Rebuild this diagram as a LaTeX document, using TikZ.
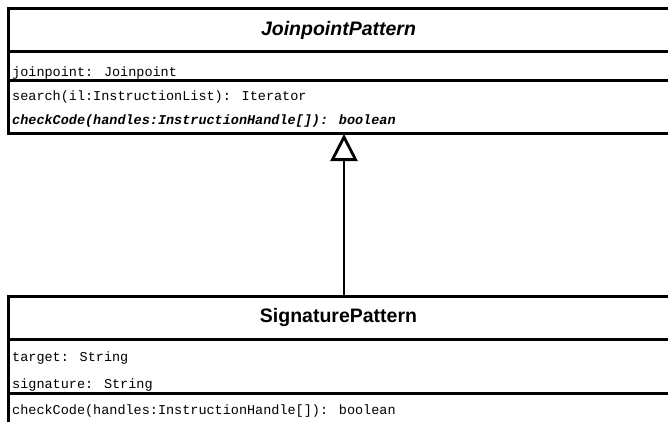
\documentclass[tikz,border=0pt]{standalone}
\usepackage{fontspec}
\setmainfont{Liberation Sans}
\newfontfamily\umlmono{Liberation Mono}
\usetikzlibrary{arrows.meta,positioning}

\tikzset{
  compart/.style={draw, line width=3pt, minimum width=661pt, inner sep=0pt, outer sep=0pt},
  classname/.style={font=\fontsize{19.5}{23}\selectfont\bfseries},
  member/.style={anchor=base west, inner sep=0pt, font=\fontsize{13.5}{16}\selectfont\umlmono},
  realize/.style={line width=2.8pt, -{Triangle[open, length=27pt, width=27pt, fill=white]}}
}

\begin{document}
\begin{tikzpicture}[x=1pt, y=-1pt, line cap=butt, line join=miter]

\useasboundingbox (0,0) rectangle (668,422);
\clip (0,0) rectangle (668,422);

% Members (drawn first, the compartment lines lie over them)
\node[member] (jpField) at (12,77) {joinpoint: Joinpoint};
\node[member] (jpSearch) at (12,101) {search(il:InstructionList): Iterator};
\node[member, font=\fontsize{13.5}{16}\selectfont\umlmono\bfseries\itshape] (jpCheck) at (12,125) {checkCode(handles:InstructionHandle[]): boolean};

\node[member] (sigTarget) at (12,361) {target: String};
\node[member] (sigSignature) at (12,388) {signature: String};
\node[member] (sigCheck) at (12,414) {checkCode(handles:InstructionHandle[]): boolean};

% Class JoinpointPattern
\node[compart, classname, minimum height=42.5pt, anchor=north west] (jpName) at (8,9) {\itshape JoinpointPattern};
\node[compart, minimum height=29.5pt, below=0pt of jpName] (jpAttrs) {};
\node[compart, minimum height=53pt, below=0pt of jpAttrs] (jpOps) {};

% Class SignaturePattern
\node[compart, classname, minimum height=43pt, anchor=north west] (sigName) at (8,296) {SignaturePattern};
\node[compart, minimum height=54pt, below=0pt of sigName] (sigAttrs) {};
\node[compart, minimum height=60pt, below=0pt of sigAttrs] (sigOps) {};

% Generalization
\draw[realize] ([xshift=5.5pt]sigName.north) -- ([xshift=5.5pt]jpOps.south);

\end{tikzpicture}
\end{document}
